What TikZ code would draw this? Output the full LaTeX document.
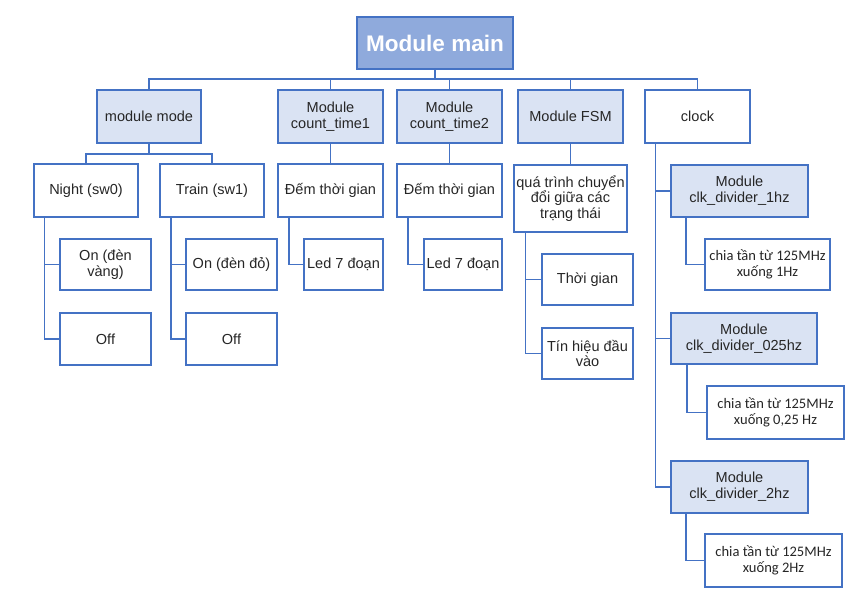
\documentclass[tikz,border=0pt]{standalone}
\usepackage{fontspec}
\setmainfont{Liberation Sans}
\newfontfamily\calfont{Carlito}
\definecolor{edge}{HTML}{4472C4}
\definecolor{mainfill}{HTML}{8FAADC}
\definecolor{lightfill}{HTML}{DAE3F3}
\definecolor{txt}{HTML}{262626}
\begin{document}
\begin{tikzpicture}[x=0.75pt,y=-0.75pt,
  every node/.style={inner sep=0pt, outer sep=0pt},
  basebox/.style={draw=edge, line width=1.4pt, rectangle, align=center, text=txt,
    font=\fontsize{10.9}{11.8}\selectfont},
  wbox/.style={basebox, fill=white},
  lbox/.style={basebox, fill=lightfill},
  calbox/.style={basebox, fill=white, font=\calfont\fontsize{10.9}{11.6}\selectfont},
  mainbox/.style={draw=edge, line width=1.4pt, fill=mainfill, text=white,
    font=\fontsize{16.9}{18}\selectfont\bfseries},
  conn/.style={draw=edge, line width=1.4pt},
  sz/.style 2 args={minimum width=#1*0.75pt, minimum height=#2*0.75pt}]
\useasboundingbox (0,0) rectangle (847,591);

% level 0
\node[mainbox, sz={156}{52}] (main) at (435,43) {Module main};

% level 1
\node[lbox, sz={104}{53}] (mode) at (149,116.5) {module mode};
\node[lbox, sz={105}{53}] (ct1) at (330.5,116.5) {Module\\count\_time1};
\node[lbox, sz={105}{53}] (ct2) at (449.5,116.5) {Module\\count\_time2};
\node[lbox, sz={105}{53}] (fsm) at (570.5,116.5) {Module FSM};
\node[wbox, sz={105}{53}] (clock) at (697.5,116.5) {clock};

% level 2
\node[wbox, sz={104}{53}] (night) at (86,190.5) {Night (sw0)};
\node[wbox, sz={104}{53}] (train) at (212,190.5) {Train (sw1)};
\node[wbox, sz={105}{53}] (dem1) at (330.5,190.5) {Đếm thời gian};
\node[wbox, sz={105}{53}] (dem2) at (449.5,190.5) {Đếm thời gian};
\node[wbox, sz={113}{67}] (fsmc) at (570.5,198.5) {quá trình chuyển\\đổi giữa các\\trạng thái};

% level 3
\node[wbox, sz={91}{51}] (on1) at (105.5,264.5) {On (đèn\\vàng)};
\node[wbox, sz={91}{52}] (off1) at (105.5,339) {Off};
\node[wbox, sz={91}{51}] (on2) at (231.5,264.5) {On (đèn đỏ)};
\node[wbox, sz={91}{52}] (off2) at (231.5,339) {Off};
\node[wbox, sz={79}{51}] (led1) at (343.5,264.5) {Led 7 đoạn};
\node[wbox, sz={78}{51}] (led2) at (463,264.5) {Led 7 đoạn};
\node[wbox, sz={91}{51}] (tg) at (587.5,279.5) {Thời gian};
\node[wbox, sz={91}{51}] (th) at (587.5,353.5) {Tín hiệu đầu\\vào};

% clock subtree
\node[lbox, sz={137}{52}] (d1) at (739.5,191) {Module\\clk\_divider\_1hz};
\node[calbox, sz={125}{51}] (c1) at (767.5,264.5) {chia tần từ 125MHz\\xuống 1Hz};
\node[lbox, sz={146}{51}] (d025) at (744,338.5) {Module\\clk\_divider\_025hz};
\node[calbox, sz={137}{53}] (c025) at (775.5,412.5) {chia tần từ 125MHz\\xuống 0,25 Hz};
\node[lbox, sz={137}{52}] (d2) at (739.5,487) {Module\\clk\_divider\_2hz};
\node[calbox, sz={137}{53}] (c2) at (773.5,560.5) {chia tần từ 125MHz\\xuống 2Hz};

% connectors level 0 -> 1
\foreach \c in {mode,ct1,ct2,fsm,clock}
  \draw[conn] (main.south) -- ++(0,10) -| (\c.north);

% mode -> night/train
\draw[conn] (mode.south) -- ++(0,11) -| (night.north);
\draw[conn] (mode.south) -- ++(0,11) -| (train.north);

% vertical children
\draw[conn] (ct1.south) -- (dem1.north);
\draw[conn] (ct2.south) -- (dem2.north);
\draw[conn] (fsm.south) -- (fsmc.north);

% side connectors
\draw[conn] (night.south west) ++(10.5,0) |- (on1.west);
\draw[conn] (night.south west) ++(10.5,0) |- (off1.west);
\draw[conn] (train.south west) ++(10.7,0) |- (on2.west);
\draw[conn] (train.south west) ++(10.7,0) |- (off2.west);
\draw[conn] (dem1.south west) ++(10.7,0) |- (led1.west);
\draw[conn] (dem2.south west) ++(11,0) |- (led2.west);
\draw[conn] (fsmc.south west) ++(11.5,0) |- (tg.west);
\draw[conn] (fsmc.south west) ++(11.5,0) |- (th.west);
\draw[conn] (clock.south west) ++(10.5,0) |- (d1.west);
\draw[conn] (clock.south west) ++(10.5,0) |- (d025.west);
\draw[conn] (clock.south west) ++(10.5,0) |- (d2.west);
\draw[conn] (d1.south west) ++(14.7,0) |- (c1.west);
\draw[conn] (d025.south west) ++(16,0) |- (c025.west);
\draw[conn] (d2.south west) ++(15,0) |- (c2.west);
\end{tikzpicture}
\end{document}
